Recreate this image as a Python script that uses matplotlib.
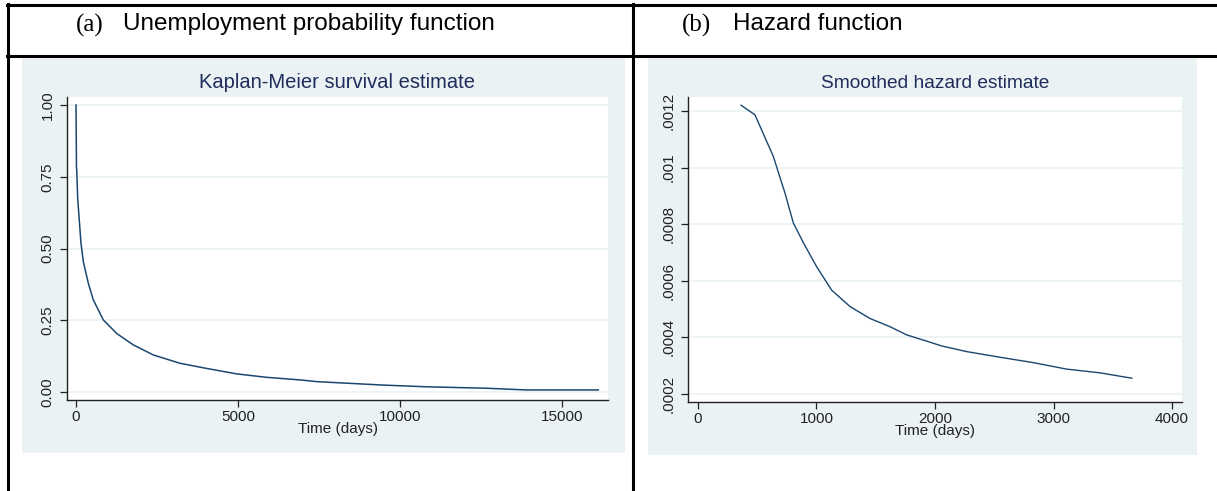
import matplotlib
matplotlib.use("Agg")
import matplotlib.pyplot as plt
from matplotlib.patches import Rectangle
from matplotlib.lines import Line2D
from matplotlib.ticker import FuncFormatter

# Kaplan-Meier survival estimate
km_time = [0, 15, 21, 52, 93, 154, 226, 380, 534, 843, 1255, 1769, 2386, 3210,
           4033, 4959, 5886, 6914, 7428, 8457, 9486, 10824, 12676, 13910, 16120]
km_surv = [1.00, 0.78, 0.776, 0.675, 0.611, 0.518, 0.454, 0.379, 0.321, 0.251,
           0.204, 0.164, 0.129, 0.100, 0.082, 0.063, 0.051, 0.042, 0.036, 0.030,
           0.024, 0.018, 0.013, 0.007, 0.007]

# Smoothed hazard estimate
hz_time = [363, 481, 636, 734, 805, 890, 1001, 1128, 1283, 1451, 1620, 1761,
           1944, 2055, 2267, 2549, 2830, 3112, 3392, 3660]
hz_val = [0.00122, 0.001186, 0.001039, 0.00091, 0.000804, 0.000734, 0.00065,
          0.000567, 0.000509, 0.000467, 0.000438, 0.000409, 0.000385, 0.00037,
          0.00035, 0.00033, 0.000311, 0.000288, 0.000275, 0.000256]

km_yticks = [0, 0.25, 0.5, 0.75, 1.0]
km_xticks = [0, 5000, 10000, 15000]
hz_yticks = [0.0002, 0.0004, 0.0006, 0.0008, 0.001, 0.0012]
hz_xticks = [0, 1000, 2000, 3000, 4000]

W, H = 1217, 491
BG = "#eaf2f3"
LINE = "#1a476f"
TITLE = "#1f2d5c"


def rect(x0, y0, x1, y1):
    return [x0 / W, 1 - y1 / H, (x1 - x0) / W, (y1 - y0) / H]


fig = plt.figure(figsize=(W / 100, H / 100), dpi=100)
fig.patch.set_facecolor("white")

# table lines
def hline(y, x0, x1):
    fig.add_artist(Line2D([x0 / W, x1 / W], [1 - y / H, 1 - y / H],
                          transform=fig.transFigure, color="black", lw=2.2))

def vline(x, y0, y1):
    fig.add_artist(Line2D([x / W, x / W], [1 - y0 / H, 1 - y1 / H],
                          transform=fig.transFigure, color="black", lw=2.2))

hline(5, 7, W)
hline(56, 7, W)
vline(8, 4, H)
vline(633, 4, H)

# headers
fig.text(76 / W, 1 - 25 / H, "(a)", family="Liberation Serif", fontsize=18,
         va="center", ha="left")
fig.text(123 / W, 1 - 24 / H, "Unemployment probability function",
         family="Liberation Sans", fontsize=17.5, va="center", ha="left")
fig.text(682 / W, 1 - 25 / H, "(b)", family="Liberation Serif", fontsize=18,
         va="center", ha="left")
fig.text(733 / W, 1 - 24 / H, "Hazard function", family="Liberation Sans",
         fontsize=17.5, va="center", ha="left")

# grey graph regions
for x0, y0, x1, y1 in [(22, 58, 625, 453), (648, 58, 1197, 455)]:
    r = rect(x0, y0, x1, y1)
    fig.add_artist(Rectangle((r[0], r[1]), r[2], r[3], transform=fig.transFigure,
                             facecolor=BG, edgecolor="none", zorder=0))


def style(ax, title, tcx, tsize):
    ax.set_facecolor("white")
    for s in ["top", "right"]:
        ax.spines[s].set_visible(False)
    for s in ["left", "bottom"]:
        ax.spines[s].set_color("#222222")
        ax.spines[s].set_linewidth(1.0)
    ax.tick_params(direction="out", length=5, width=0.9, colors="#222222",
                   labelsize=11, labelfontfamily="Liberation Sans")
    ax.tick_params(axis="x", pad=2)
    ax.tick_params(axis="y", labelrotation=90, pad=4)
    for lab in ax.get_yticklabels():
        lab.set_va("center")
    ax.grid(axis="y", color=BG, lw=1.2)
    ax.set_axisbelow(True)
    fig.text(tcx / W, 1 - 83 / H, title, ha="center", va="center", fontsize=tsize,
             family="Liberation Sans", color=TITLE)
    ax.set_xlabel("Time (days)", fontsize=11, family="Liberation Sans",
                  color="#222222", labelpad=-1)


# (a) Kaplan-Meier
ax1 = fig.add_axes(rect(67, 97, 608, 400))
ax1.plot(km_time, km_surv, color=LINE, lw=1.1)
ax1.set_xlim(-278, 16420)
ax1.set_ylim(-0.028, 1.028)
ax1.set_xticks(km_xticks)
ax1.set_yticks(km_yticks)
ax1.yaxis.set_major_formatter(FuncFormatter(lambda v, p: f"{v:.2f}"))
style(ax1, "Kaplan-Meier survival estimate", 337, 14.5)

# (b) Smoothed hazard
ax2 = fig.add_axes(rect(688, 97, 1182, 402))
ax2.plot(hz_time, hz_val, color=LINE, lw=1.0)
ax2.set_xlim(-84, 4084)
ax2.set_ylim(0.000172, 0.001249)
ax2.set_xticks(hz_xticks)
ax2.set_yticks(hz_yticks)
ax2.yaxis.set_major_formatter(FuncFormatter(lambda v, p: f"{v:.4f}".rstrip("0").lstrip("0")))
style(ax2, "Smoothed hazard estimate", 935, 13.8)

for ax in (ax1, ax2):
    for lab in ax.get_yticklabels():
        lab.set_va("center")

fig.savefig("out.png", dpi=100)
